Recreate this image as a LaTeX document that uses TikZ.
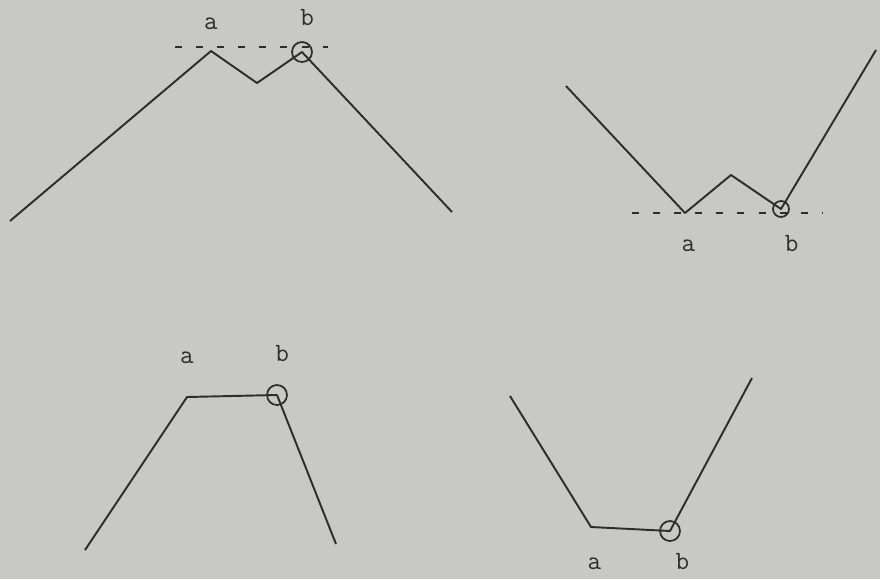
\documentclass[tikz,border=0pt]{standalone}
\usepackage{xcolor}
\usetikzlibrary{positioning}
\definecolor{paper}{RGB}{200,200,198}
\definecolor{ink}{RGB}{45,45,45}

\begin{document}
\begin{tikzpicture}[
    x=0.02cm, y=-0.02cm,
    curve/.style={draw=ink, line width=1.1pt, line join=round},
    level/.style={draw=ink, line width=0.9pt, dash pattern=on 4pt off 8pt},
    pivot/.style={draw=ink, circle, line width=1pt, minimum size=0.4cm, inner sep=0pt},
    lbl/.style={font=\ttfamily\fontsize{15}{17}\selectfont, text=ink}
]
\useasboundingbox (0,0) rectangle (880,579);
\fill[paper] (0,0) rectangle (880,579);

% top left
\coordinate (tl1) at (10,221);
\node[inner sep=0pt] (tla) at (211,51) {};
\coordinate (tlv) at (257,83);
\node[pivot] (tlb) at (302,52) {};
\coordinate (tl2) at (452,212);
\draw[curve] (tl1) -- (tla.center) -- (tlv) -- (tlb.center) -- (tl2);
\coordinate (tld1) at (175,47);
\coordinate (tld2) at (328,47);
\draw[level] (tld1) -- (tld2);
\node[lbl, above=12pt of tla.center, anchor=base] {a};
\node[lbl, above=15pt of tlb.center, anchor=base, xshift=3pt] {b};

% top right
\coordinate (tr1) at (566,86);
\node[inner sep=0pt] (tra) at (685,213) {};
\coordinate (trp) at (731,175);
\node[pivot, minimum size=0.32cm] (trb) at (781,209) {};
\coordinate (tr2) at (876,50);
\draw[curve] (tr1) -- (tra.center) -- (trp) -- (trb.center) -- (tr2);
\coordinate (trd1) at (632,213);
\coordinate (trd2) at (823,213);
\draw[level] (trd1) -- (trd2);
\node[lbl, below=22pt of tra.center, anchor=base, xshift=2pt] {a};
\node[lbl, below=24pt of trb.center, anchor=base, xshift=6pt] {b};

% bottom left
\coordinate (bl1) at (85,550);
\node[inner sep=0pt] (bla) at (187,397) {};
\node[pivot] (blb) at (277,395) {};
\coordinate (bl2) at (336,544);
\draw[curve] (bl1) -- (bla.center) -- (blb.center) -- (bl2);
\node[lbl, above=19pt of bla.center, anchor=base] {a};
\node[lbl, above=19pt of blb.center, anchor=base, xshift=3pt] {b};

% bottom right
\coordinate (br1) at (510,396);
\node[inner sep=0pt] (bra) at (591,527) {};
\node[pivot] (brb) at (670,531) {};
\coordinate (br2) at (752,378);
\draw[curve] (br1) -- (bra.center) -- (brb.center) -- (br2);
\node[lbl, below=24pt of bra.center, anchor=base, xshift=2pt] {a};
\node[lbl, below=22pt of brb.center, anchor=base, xshift=7pt] {b};
\end{tikzpicture}
\end{document}
